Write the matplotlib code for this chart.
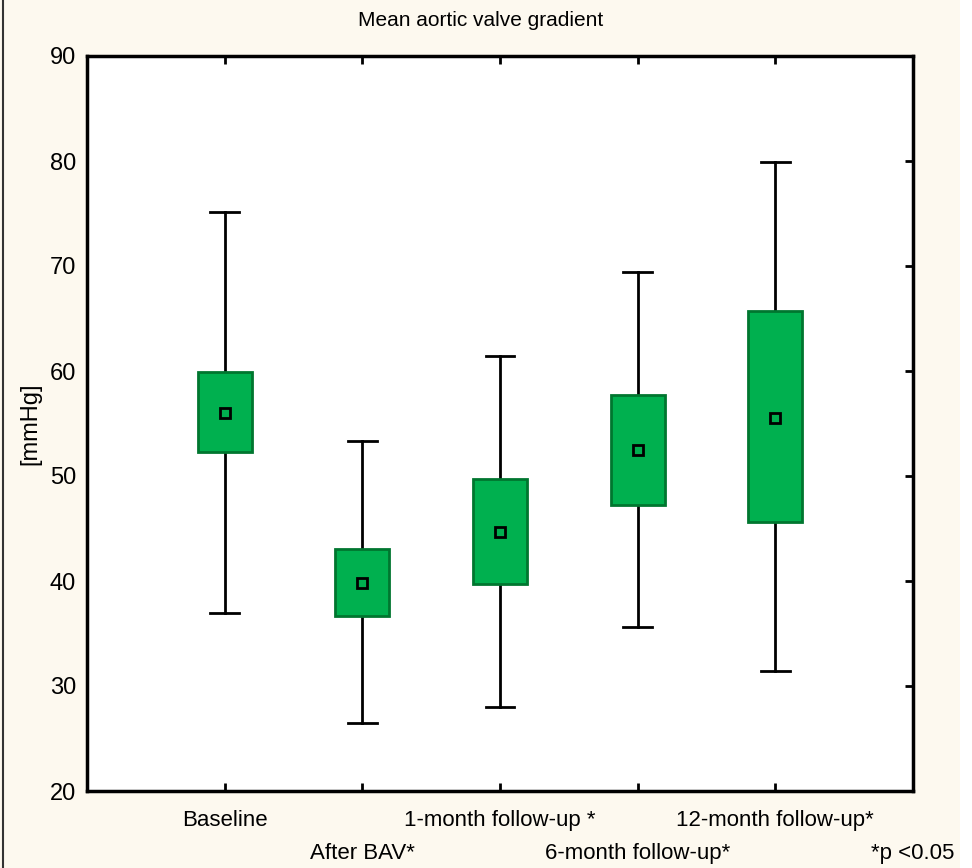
import matplotlib.pyplot as plt
from matplotlib.lines import Line2D
from matplotlib.patches import Rectangle

plt.rcParams['font.family'] = ['Liberation Sans Narrow', 'Liberation Sans', 'DejaVu Sans']

# data (mmHg)
groups = ['Baseline', 'After BAV*', '1-month follow-up *', '6-month follow-up*', '12-month follow-up*']
means = [56.0, 39.8, 44.7, 52.5, 55.5]
box_lo = [52.3, 36.7, 39.7, 47.2, 45.6]
box_hi = [59.9, 43.05, 49.7, 57.7, 65.7]
whisk_lo = [37.0, 26.5, 28.0, 35.6, 31.4]
whisk_hi = [75.1, 53.3, 61.4, 69.4, 79.9]

bg = '#fdf9ef'
green = '#00b04f'
edge = '#00762f'

fig = plt.figure(figsize=(9.72, 8.68), dpi=100, facecolor=bg)
ax = fig.add_axes([87 / 972, 77 / 868, 826 / 972, 735 / 868])
ax.set_facecolor('white')

pos = list(range(1, len(groups) + 1))
bw = 0.39
cw = 0.21
for x, m, lo, hi, wl, wh in zip(pos, means, box_lo, box_hi, whisk_lo, whisk_hi):
    ax.plot([x, x], [wl, lo], color='black', lw=2, zorder=2)
    ax.plot([x, x], [hi, wh], color='black', lw=2, zorder=2)
    ax.plot([x - cw / 2, x + cw / 2], [wl, wl], color='black', lw=2, zorder=2)
    ax.plot([x - cw / 2, x + cw / 2], [wh, wh], color='black', lw=2, zorder=2)
    ax.add_patch(Rectangle((x - bw / 2, lo), bw, hi - lo, facecolor=green,
                           edgecolor=edge, lw=2, zorder=3))
    ax.plot(x, m, marker='s', ms=7, mfc=green, mec='black', mew=2, zorder=4)

ax.set_xlim(0, 6)
ax.set_ylim(20, 90)
ax.set_yticks(range(20, 91, 10))
ax.set_xticks(pos)
ax.set_xticklabels([])
for s in ax.spines.values():
    s.set_linewidth(2.5)
ax.tick_params(axis='y', which='both', left=False, right=True, direction='in',
               length=6, width=2, labelsize=17, pad=8)
ax.tick_params(axis='x', which='both', bottom=True, top=True, direction='in',
               length=6, width=2)

# staggered category labels
for i, (x, lab) in enumerate(zip(pos, groups)):
    ax.annotate(lab, xy=(x, 0), xycoords=('data', 'axes fraction'),
                xytext=(0, -21 if i % 2 == 0 else -45), textcoords='offset points',
                ha='center', va='center', fontsize=16)
ax.annotate('*p <0.05', xy=(6, 0), xycoords=('data', 'axes fraction'),
            xytext=(0, -45), textcoords='offset points',
            ha='center', va='center', fontsize=16)

ax.set_ylabel('[mmHg]', fontsize=17, labelpad=6)
fig.text(481 / 972, 1 - 20 / 868, 'Mean aortic valve gradient', ha='center',
         va='center', fontsize=15)

# frame edges of the original picture
fig.add_artist(Line2D([3 / 972, 3 / 972], [0, 1], color='#333333', lw=1.5))
fig.add_artist(Rectangle((960 / 972, 0), 12 / 972, 1, color='white', lw=0))

fig.savefig('out.png', dpi=100, facecolor=bg)
